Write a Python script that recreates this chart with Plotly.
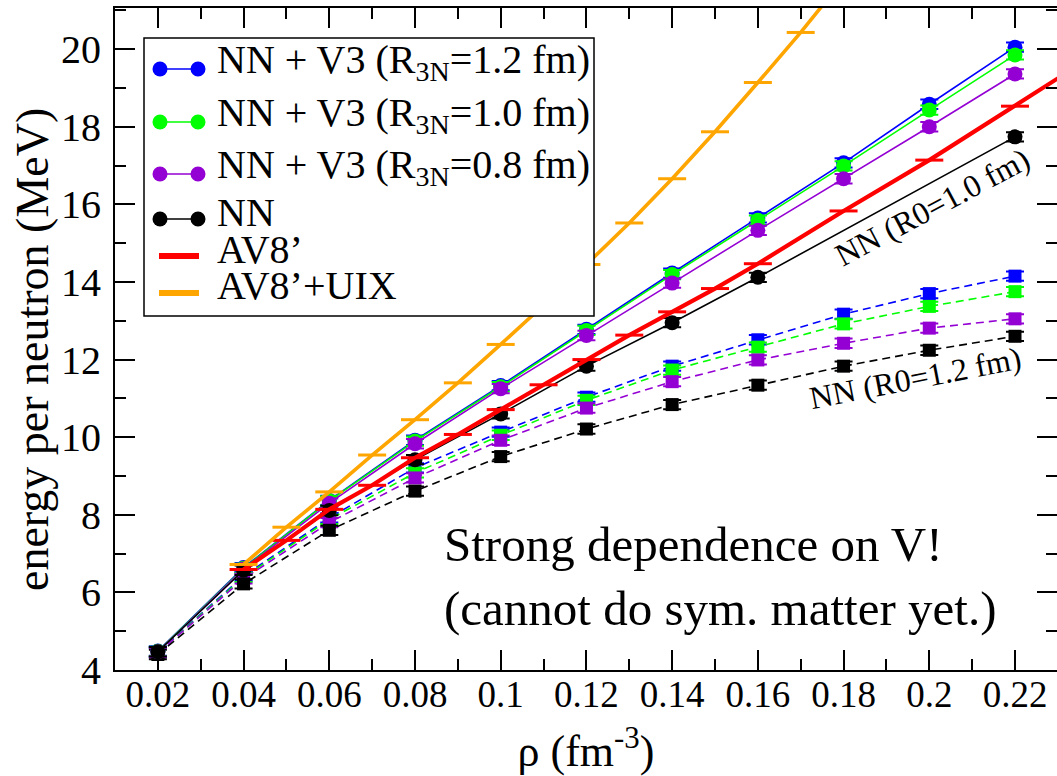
import plotly.graph_objects as go

# ---------------- data ----------------
rho = [0.02, 0.04, 0.06, 0.08, 0.10, 0.12, 0.14, 0.16, 0.18, 0.20, 0.22]

v3_12_solid = [4.49, 6.64, 8.37, 9.92, 11.33, 12.78, 14.23, 15.65, 17.07, 18.58, 20.05]
v3_10_solid = [4.48, 6.62, 8.36, 9.90, 11.30, 12.75, 14.19, 15.59, 16.99, 18.43, 19.85]
v3_08_solid = [4.47, 6.60, 8.30, 9.83, 11.25, 12.62, 13.97, 15.33, 16.66, 18.00, 19.36]

rho_nn_solid = [0.02, 0.04, 0.06, 0.08, 0.10, 0.12, 0.14, 0.16, 0.22]
nn_solid = [4.47, 6.57, 8.11, 9.42, 10.60, 11.83, 12.95, 14.12, 17.74]

v3_12_dash = [4.46, 6.42, 7.92, 9.21, 10.13, 11.03, 11.83, 12.51, 13.17, 13.70, 14.15]
v3_10_dash = [4.45, 6.39, 7.88, 9.08, 10.05, 10.95, 11.73, 12.32, 12.92, 13.37, 13.75]
v3_08_dash = [4.44, 6.35, 7.80, 8.95, 9.92, 10.75, 11.43, 11.99, 12.42, 12.81, 13.05]
nn_dash = [4.40, 6.22, 7.60, 8.61, 9.50, 10.21, 10.84, 11.34, 11.83, 12.24, 12.60]

rho_av8 = [0.04, 0.05, 0.06, 0.07, 0.08, 0.09, 0.10, 0.11, 0.12, 0.13, 0.14,
           0.15, 0.16, 0.18, 0.20, 0.22, 0.24]
av8 = [6.59, 7.34, 8.14, 8.76, 9.47, 10.07, 10.71, 11.35, 12.00, 12.63, 13.23,
       13.83, 14.47, 15.83, 17.14, 18.53, 19.95]

rho_uix = [0.04, 0.05, 0.06, 0.07, 0.08, 0.09, 0.10, 0.11, 0.12, 0.13, 0.14,
           0.15, 0.16, 0.17, 0.18]
av8_uix = [6.72, 7.68, 8.59, 9.54, 10.45, 11.40, 12.39, 13.40, 14.45, 15.52, 16.66,
           17.87, 19.14, 20.43, 21.80]

x_tickvals = [0.02, 0.04, 0.06, 0.08, 0.10, 0.12, 0.14, 0.16, 0.18, 0.20, 0.22]
x_ticktext = ["0.02", "0.04", "0.06", "0.08", "0.1", "0.12", "0.14", "0.16", "0.18", "0.2", "0.22"]
x_minor = [0.01, 0.03, 0.05, 0.07, 0.09, 0.11, 0.13, 0.15, 0.17, 0.19, 0.21, 0.23]
y_tickvals = [4, 6, 8, 10, 12, 14, 16, 18, 20]
y_ticktext = ["4", "6", "8", "10", "12", "14", "16", "18", "20"]
y_minor = [5, 7, 9, 11, 13, 15, 17, 19, 21]

legend_labels = ["NN + V3 (R<sub>3N</sub>=1.2 fm)", "NN + V3 (R<sub>3N</sub>=1.0 fm)",
                 "NN + V3 (R<sub>3N</sub>=0.8 fm)", "NN", "AV8’", "AV8’+UIX"]

BLUE = "#0000ff"
GREEN = "#00ff00"
PURPLE = "#9400d3"
BLACK = "#000000"
RED = "#ff0000"
ORANGE = "#ffa500"
FONT = "Liberation Serif, Times New Roman, serif"

W, H = 1057, 776
L, R, T, B = 115, 0, 8, 106
PW, PH = W - L - R, H - T - B


def px(x):
    return (x - L) / PW


def py(y):
    return (H - B - y) / PH


fig = go.Figure()


def add_series(x, y, color, dashed):
    fig.add_trace(go.Scatter(
        x=x, y=y, mode="lines+markers",
        line=dict(color=color, width=1.6, dash="8px,5px" if dashed else "solid"),
        marker=dict(symbol="square" if dashed else "circle", size=13 if dashed else 15,
                    color=color, line=dict(width=0)),
        error_y=dict(type="constant", value=0.12, color=color, thickness=2, width=9),
        showlegend=False, hoverinfo="x+y"))


add_series(rho, v3_12_dash, BLUE, True)
add_series(rho, v3_10_dash, GREEN, True)
add_series(rho, v3_08_dash, PURPLE, True)
add_series(rho, nn_dash, BLACK, True)
add_series(rho, v3_12_solid, BLUE, False)
add_series(rho, v3_10_solid, GREEN, False)
add_series(rho, v3_08_solid, PURPLE, False)
add_series(rho_nn_solid, nn_solid, BLACK, False)

fig.add_trace(go.Scatter(
    x=rho_av8, y=av8, mode="lines+markers",
    line=dict(color=RED, width=4.2),
    marker=dict(symbol="line-ew", size=20, color=RED, line=dict(color=RED, width=3)),
    showlegend=False))
fig.add_trace(go.Scatter(
    x=rho_uix, y=av8_uix, mode="lines+markers",
    line=dict(color=ORANGE, width=3.6),
    marker=dict(symbol="line-ew", size=20, color=ORANGE, line=dict(color=ORANGE, width=3)),
    showlegend=False))

# ---------------- custom legend ----------------
shapes = []
annotations = []
shapes.append(dict(type="rect", xref="paper", yref="paper",
                   x0=px(144), x1=px(594), y0=py(316), y1=py(38),
                   line=dict(color="black", width=1.5), fillcolor="white", layer="above"))
rows = [(69, BLUE, "sym"), (122, GREEN, "sym"), (174, PURPLE, "sym"),
        (219, BLACK, "sym"), (256, RED, "line"), (293, ORANGE, "line")]
for (yy, col, kind), lab in zip(rows, legend_labels):
    if kind == "sym":
        shapes.append(dict(type="line", xref="paper", yref="paper",
                           x0=px(160), x1=px(198), y0=py(yy), y1=py(yy),
                           line=dict(color=col, width=1.6), layer="above"))
        for cx in (160, 198):
            shapes.append(dict(type="circle", xref="paper", yref="paper",
                               xsizemode="pixel", ysizemode="pixel",
                               xanchor=px(cx), yanchor=py(yy),
                               x0=-7.5, x1=7.5, y0=-7.5, y1=7.5,
                               fillcolor=col, line=dict(width=0), layer="above"))
    else:
        shapes.append(dict(type="line", xref="paper", yref="paper",
                           x0=px(159), x1=px(199), y0=py(yy), y1=py(yy),
                           line=dict(color=col, width=6), layer="above"))
    annotations.append(dict(xref="paper", yref="paper", x=px(215), y=py(yy - 7),
                            text=lab, showarrow=False, xanchor="left", yanchor="middle",
                            font=dict(family=FONT, size=40, color="black")))

annotations.append(dict(xref="paper", yref="paper", x=px(442), y=py(515),
                        text="Strong dependence on V!<br>(cannot do sym. matter yet.)",
                        showarrow=False, xanchor="left", yanchor="top", align="left",
                        font=dict(family=FONT, size=49, color="black")))
annotations.append(dict(xref="paper", yref="paper", x=px(932), y=py(207),
                        text="NN (R0=1.0 fm)", showarrow=False, textangle=-28,
                        xanchor="center", yanchor="middle",
                        font=dict(family=FONT, size=32, color="black")))
annotations.append(dict(xref="paper", yref="paper", x=px(915), y=py(378),
                        text="NN (R0=1.2 fm)", showarrow=False, textangle=-11,
                        xanchor="center", yanchor="middle",
                        font=dict(family=FONT, size=32, color="black")))
# y-axis title
annotations.append(dict(xref="paper", yref="paper", x=px(32), y=py(350),
                        text="energy per neutron (MeV)", showarrow=False, textangle=-90,
                        xanchor="center", yanchor="middle",
                        font=dict(family=FONT, size=46, color="black")))

axis_common = dict(showgrid=False, zeroline=False, showline=True, linecolor="black",
                   linewidth=2, mirror="allticks", ticks="inside", ticklen=20,
                   tickwidth=2, tickcolor="black", automargin=False)

fig.update_layout(
    width=W, height=H,
    margin=dict(l=L, r=R, t=T, b=B, pad=0),
    paper_bgcolor="white", plot_bgcolor="white",
    shapes=shapes, annotations=annotations,
    xaxis=dict(range=[0.01, 0.2298], tickmode="array", tickvals=x_tickvals,
               ticktext=x_ticktext, ticklabelstandoff=-9,
               tickfont=dict(family=FONT, size=37, color="black"),
               minor=dict(tickmode="array", tickvals=x_minor, ticks="inside",
                          ticklen=11, tickwidth=2, tickcolor="black"),
               title=dict(text="ρ (fm<sup>-3</sup>)", standoff=27,
                          font=dict(family=FONT, size=44, color="black")),
               **axis_common),
    yaxis=dict(range=[4, 21.06], tickmode="array", tickvals=y_tickvals,
               ticktext=y_ticktext, ticklabelstandoff=4,
               tickfont=dict(family=FONT, size=40, color="black"),
               minor=dict(tickmode="array", tickvals=y_minor, ticks="inside",
                          ticklen=11, tickwidth=2, tickcolor="black"),
               **axis_common),
)

fig.write_html("out.html", config={"displayModeBar": False},
               post_script="document.body.style.margin='0px';document.body.style.overflow='hidden';")
